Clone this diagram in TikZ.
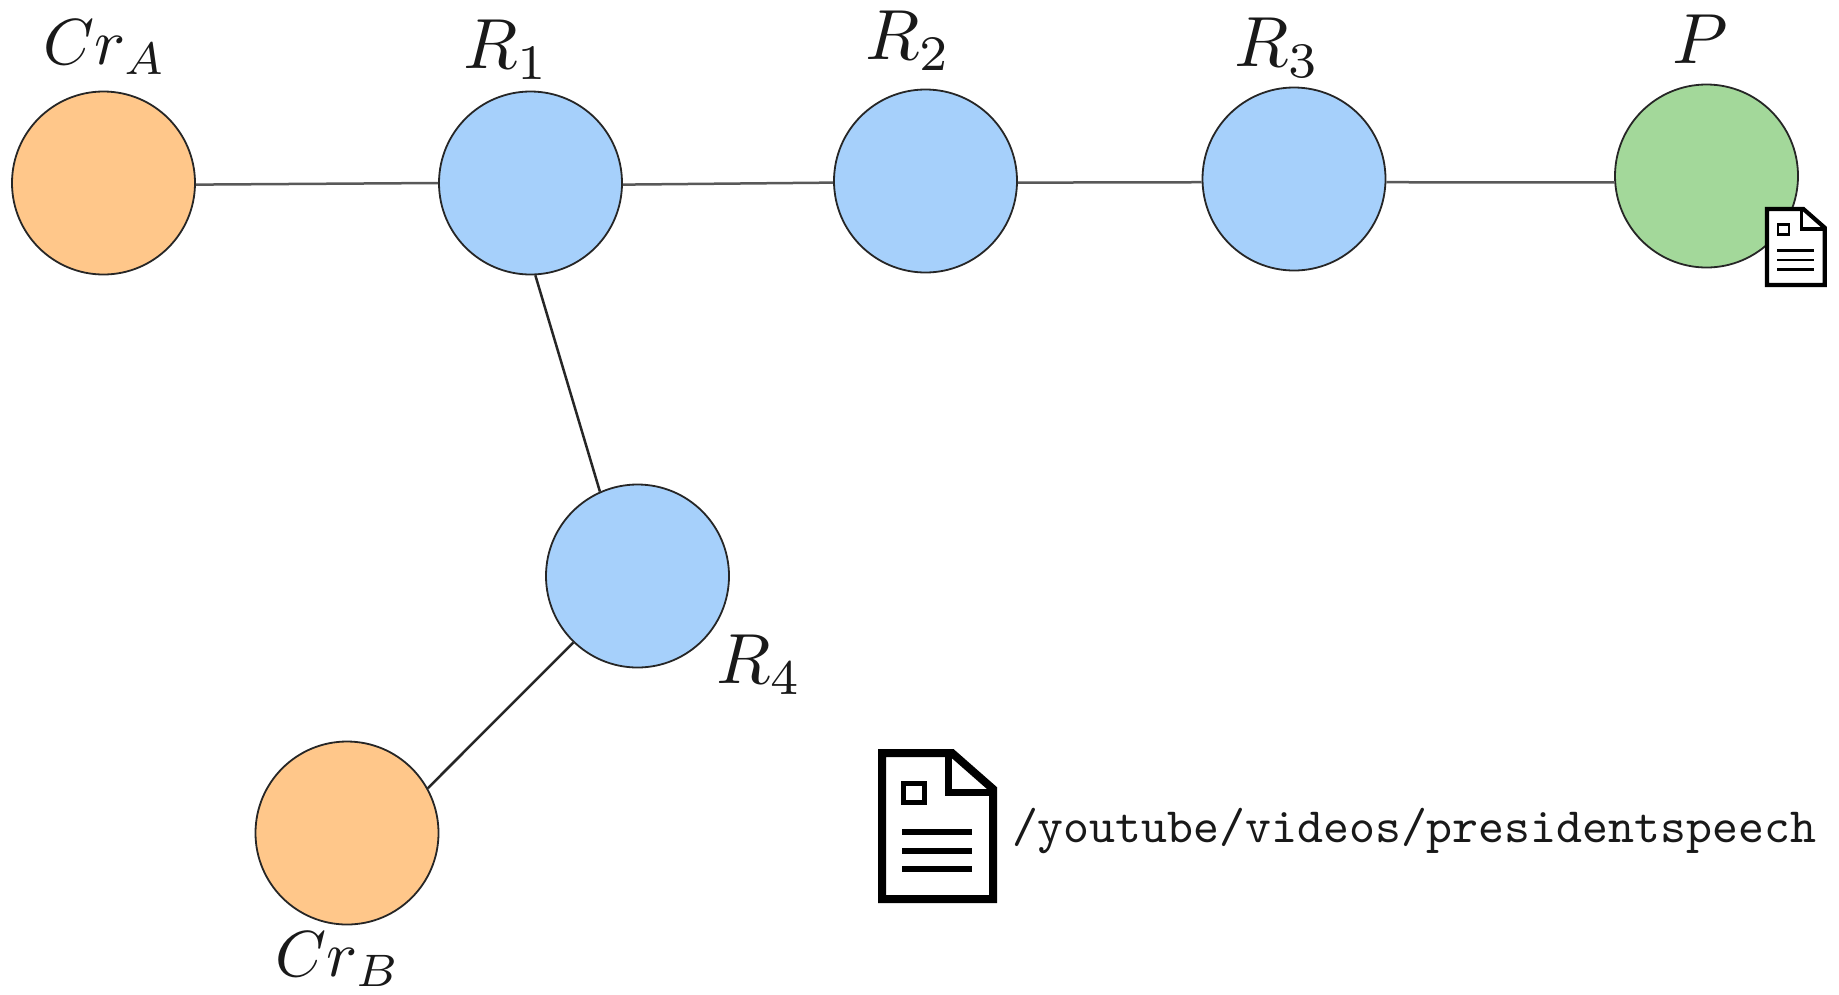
\documentclass[tikz,border=0pt]{standalone}
\definecolor{corange}{HTML}{FFC78A}
\definecolor{cblue}{HTML}{A6D0FB}
\definecolor{cgreen}{HTML}{A3D89A}
\newcommand{\docicon}[3]{%
  \begin{scope}[shift={(#1,#2)},x=#3pt,y=-#3pt]
    \draw[line width=8*#3 pt,fill=white,miter limit=10] (0,0) -- (70,0) -- (111,36) -- (111,146) -- (0,146) -- cycle;
    \draw[line width=7*#3 pt] (66,2) -- (66,39) -- (109,39);
    \draw[line width=5*#3 pt] (21,30) rectangle (42,49);
    \draw[line width=5.5*#3 pt] (20,79) -- (90,79) (20,98) -- (90,98) (20,116) -- (90,116);
  \end{scope}}
\tikzset{
  netnode/.style={circle,draw=black!85,line width=1.8pt,minimum size=183pt,inner sep=0pt},
  crnode/.style={netnode,fill=corange},
  rnode/.style={netnode,fill=cblue},
  pnode/.style={netnode,fill=cgreen},
  lbl/.style={scale=7.1,inner sep=0pt,text=black!90},
  crlbl/.style={scale=6.5,inner sep=0pt,text=black!90},
  link/.style={draw=black!65,line width=2.5pt},
  pathtext/.style={font=\ttfamily,scale=4.94,inner sep=0pt,anchor=base west,text=black!90}
}
\begin{document}
\begin{tikzpicture}[x=1pt,y=-1pt]
\useasboundingbox[fill=white] (0,0) rectangle (1839,994);
\node[crnode] (cra) at (103.5,183) {};
\node[rnode] (r1) at (530.5,183) {};
\node[rnode] (r2) at (925.5,181) {};
\node[rnode] (r3) at (1294,179) {};
\node[pnode] (p) at (1706.5,176) {};
\node[rnode] (r4) at (637.5,576) {};
\node[crnode] (crb) at (347,833) {};
\draw[link] (cra.359.4) -- (r1.180.6);
\draw[link] (r1.359.4) -- (r2.181.2);
\draw[link] (r2.359.4) -- (r3.182);
\draw[link] (r3.358) -- (p.184);
\draw[link,draw=black!85] (r1.273) -- (r4.114);
\draw[link,draw=black!85] (crb.29) -- (r4.226);
\node[crlbl] (lcra) at (105,47) {$Cr_A$};
\node[lbl] (lr1) at (506,50) {$R_1$};
\node[lbl] (lr2) at (908,41) {$R_2$};
\node[lbl] (lr3) at (1277,48) {$R_3$};
\node[lbl] (lp) at (1700,39) {$P$};
\node[lbl] (lr4) at (759,665) {$R_4$};
\node[crlbl] (lcrb) at (338,959) {$Cr_B$};
\docicon{1767}{209}{0.52}
\docicon{882}{753}{1}
\node[pathtext] (path) at (1011,842) {/youtube/videos/presidentspeech};
\end{tikzpicture}
\end{document}
